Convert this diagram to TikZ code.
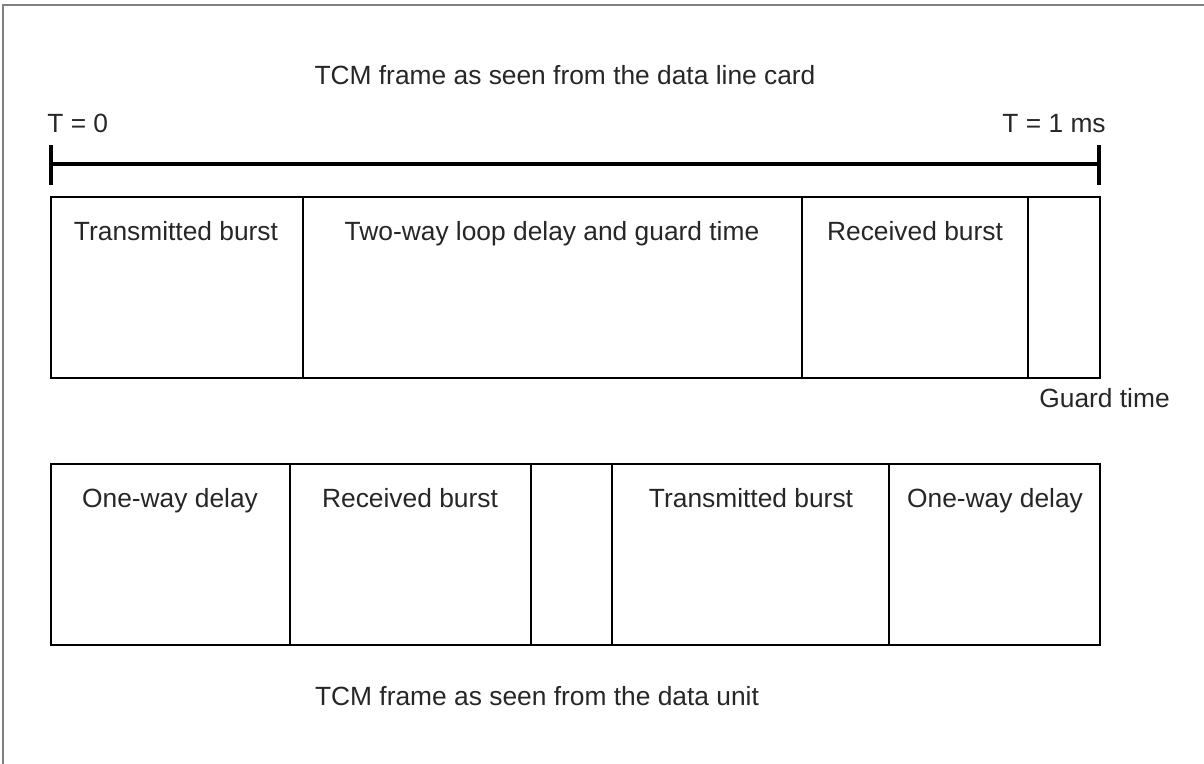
\documentclass[tikz,border=0pt]{standalone}
\usepackage{fontspec}
\setmainfont{Liberation Sans}
\usetikzlibrary{positioning}

\begin{document}
\begin{tikzpicture}[x=0.02cm, y=-0.02cm, font=\fontsize{15}{18}\selectfont,
    frame/.style={draw, line width=1.3pt},
    tick/.style={line width=2pt},
    txt/.style={anchor=base, inner sep=0pt, text=black!85}]
  \useasboundingbox (0,0) rectangle (1204,764);
  \draw[gray, line width=0.6pt] (3,764) -- (3,5) -- (1204,5);

  % line card frame
  \node[txt] (ttl) at (565,84) {TCM frame as seen from the data line card};
  \node[txt, anchor=base west] (t0) at (47,132) {T = 0};
  \node[txt, anchor=base east] (t1) at (1106,132) {T = 1 ms};

  \coordinate (ta) at (51,164);
  \coordinate (tb) at (1099,164);
  \draw[tick] (ta) -- (tb);
  \foreach \x in {51,1099}
    \draw[tick] (\x,145) -- (\x,185);

  \draw[frame] (51,197) rectangle (1100,378);
  \foreach \x in {303,802,1028}
    \draw[frame] (\x,197) -- (\x,378);
  \foreach \x/\t [count=\i] in {176/Transmitted burst, 552/Two-way loop delay and guard time, 915/Received burst}
    \node[txt] (lc\i) at (\x,240) {\t};
  \node[txt, anchor=base west] (gt) at (1039,407) {Guard time};

  % data unit frame
  \draw[frame] (51,464) rectangle (1100,645);
  \foreach \x in {290,531,612,889}
    \draw[frame] (\x,464) -- (\x,645);
  \foreach \x/\t [count=\i] in {170/One-way delay, 410/Received burst, 751/Transmitted burst, 995/One-way delay}
    \node[txt] (du\i) at (\x,507) {\t};

  \node[txt] (btm) at (537,705) {TCM frame as seen from the data unit};
\end{tikzpicture}
\end{document}
